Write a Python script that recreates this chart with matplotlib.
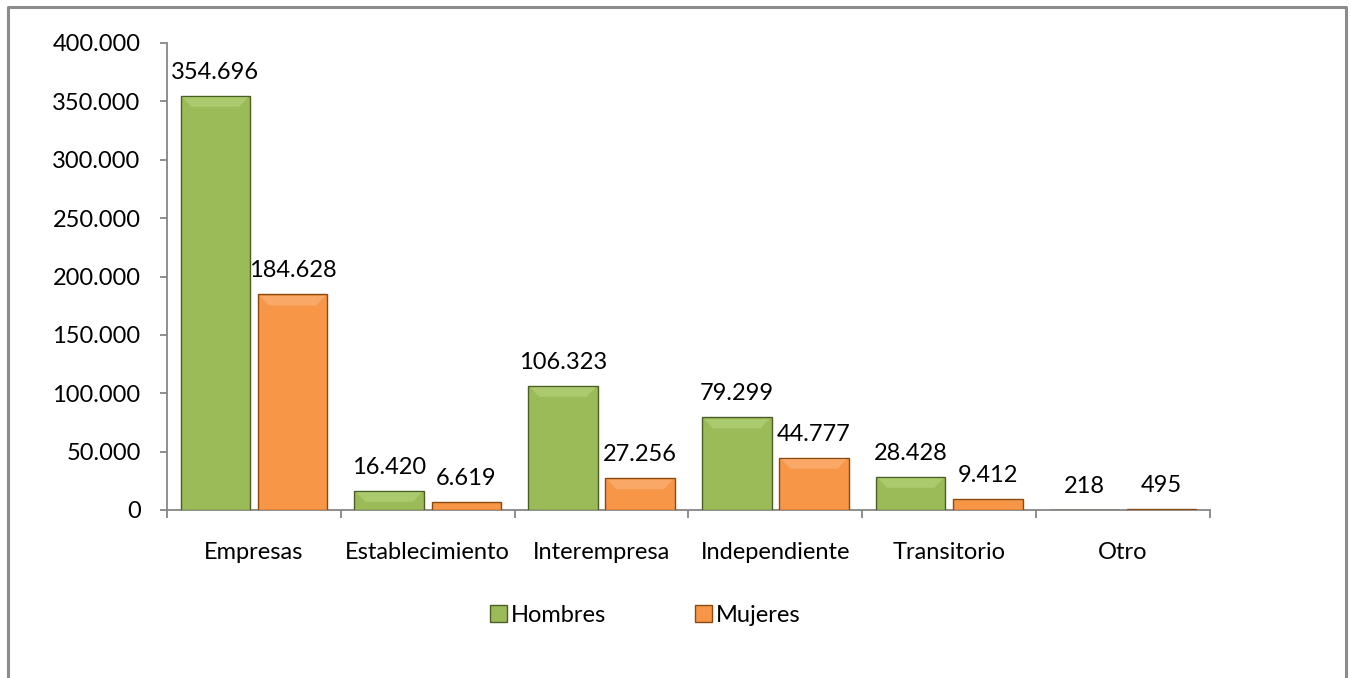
import matplotlib
matplotlib.use("Agg")
import matplotlib.pyplot as plt
import numpy as np
from matplotlib.patches import Polygon, Patch
from matplotlib.lines import Line2D

plt.rcParams['font.family'] = ['Lato', 'DejaVu Sans']

categories = ["Empresas", "Establecimiento", "Interempresa", "Independiente", "Transitorio", "Otro"]
hombres = [354696, 16420, 106323, 79299, 28428, 218]
mujeres = [184628, 6619, 27256, 44777, 9412, 495]
series_names = ["Hombres", "Mujeres"]
yticks = [0, 50000, 100000, 150000, 200000, 250000, 300000, 350000, 400000]

def fmt(v):
    return f"{v:,}".replace(",", ".")

W, H = 1351, 678
FS = 17
fig = plt.figure(figsize=(W / 100, H / 100), dpi=100)
fig.patch.set_facecolor("white")

# outer border
border = "#8c8c8c"
fig.add_artist(Line2D([7.5 / W, 7.5 / W, 1346 / W, 1346 / W],
                      [0, 1 - 6.5 / H, 1 - 6.5 / H, 0],
                      transform=fig.transFigure, color=border, lw=2.2))

ax_l, ax_r, ax_b, ax_t = 167, 1210, 510, 43
ax = fig.add_axes([ax_l / W, 1 - ax_b / H, (ax_r - ax_l) / W, (ax_b - ax_t) / H])
ax.set_xlim(-0.5, len(categories) - 0.5)
ax.set_ylim(0, 400000)

x = np.arange(len(categories))
bw = 0.40
off = 0.222
fills = ["#9BBB59", "#F79646"]
edges = ["#4A5E25", "#8A4A12"]
bevels = ["#ABC96D", "#F9A868"]

px_x = (len(categories)) / (ax_r - ax_l)
px_y = 400000 / (ax_b - ax_t)

for vals, dx, fc, ec, bc, name in zip([hombres, mujeres], [-off, off], fills, edges, bevels, series_names):
    bars = ax.bar(x + dx, vals, bw, color=fc, edgecolor=ec, linewidth=1.0, label=name, zorder=3)
    for b, v in zip(bars, vals):
        x0, x1 = b.get_x(), b.get_x() + b.get_width()
        top = v
        if top / px_y > 16:
            poly = Polygon([[x0 + 2 * px_x, top - 1.5 * px_y], [x1 - 2 * px_x, top - 1.5 * px_y],
                            [x1 - 11 * px_x, top - 11 * px_y], [x0 + 11 * px_x, top - 11 * px_y]],
                           closed=True, facecolor=bc, edgecolor="none", zorder=4)
            ax.add_patch(poly)
        ax.annotate(fmt(v), (b.get_x() + b.get_width() / 2, top), xytext=(0, 17),
                    textcoords="offset points", ha="center", va="center", fontsize=FS,
                    color="black", zorder=5)

# axes styling
axis_col = "#868686"
for s in ["top", "right"]:
    ax.spines[s].set_visible(False)
ax.spines["left"].set_color(axis_col)
ax.spines["bottom"].set_color(axis_col)
ax.spines["left"].set_linewidth(1.3)
ax.spines["bottom"].set_linewidth(1.3)
ax.set_yticks(yticks)
ax.set_yticklabels([fmt(v) for v in yticks], fontsize=FS)
ax.tick_params(axis="y", direction="out", length=5, width=1.3, color=axis_col, pad=14)
ax.set_xticks(x)
ax.set_xticklabels(categories, fontsize=FS)
ax.tick_params(axis="x", which="major", length=0, pad=23)
ax.set_xticks(np.arange(-0.5, len(categories)), minor=True)
ax.tick_params(axis="x", which="minor", direction="out", length=6, width=1.3, color=axis_col)

handles = [Patch(facecolor=fills[0], edgecolor=edges[0], linewidth=1.0),
           Patch(facecolor=fills[1], edgecolor=edges[1], linewidth=1.0)]
fig.legend(handles, series_names, loc="center", bbox_to_anchor=(645 / W, 1 - 615 / H),
           ncol=2, frameon=False, fontsize=FS, handlelength=0.75, handleheight=0.75,
           handletextpad=0.15, columnspacing=3.75)

fig.savefig("out.png", dpi=100, facecolor="white")
